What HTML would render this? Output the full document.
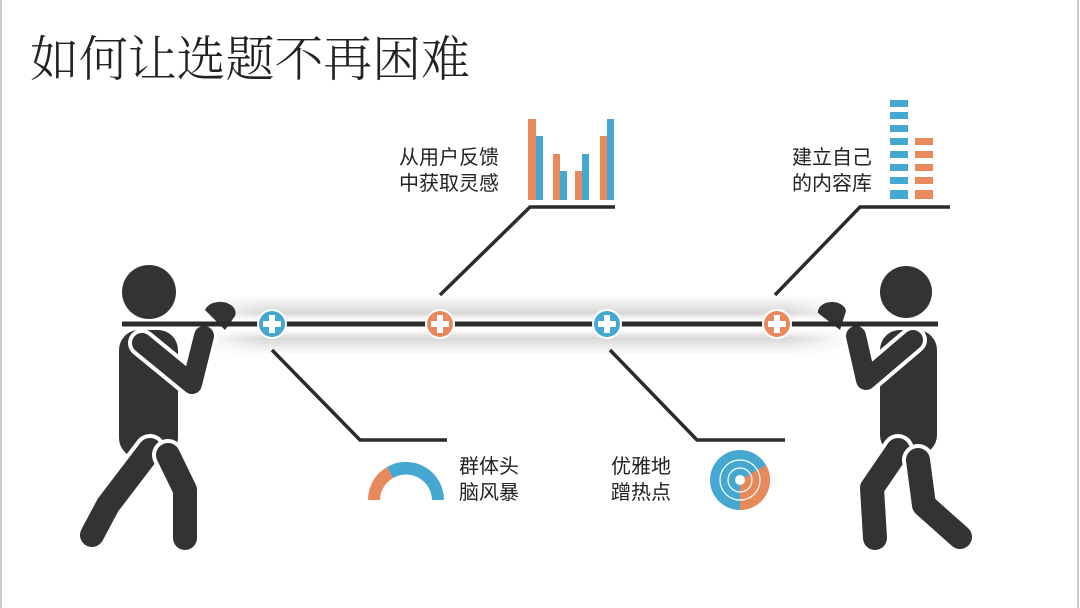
<!DOCTYPE html>
<html><head><meta charset="utf-8"><style>
html,body{margin:0;padding:0;background:#fff;}
body{width:1080px;height:608px;overflow:hidden;position:relative;}
svg{position:absolute;left:0;top:0;}
</style></head><body>
<svg width="1080" height="608" viewBox="0 0 1080 608" xmlns="http://www.w3.org/2000/svg" font-family="'Liberation Sans','Noto Sans CJK SC',sans-serif">
<defs>
<linearGradient id="sh" x1="0" y1="0" x2="0" y2="1">
<stop offset="0" stop-color="#fff"/><stop offset="0.3" stop-color="#d8d8d8"/><stop offset="0.42" stop-color="#fff"/><stop offset="0.58" stop-color="#fff"/><stop offset="0.72" stop-color="#d8d8d8"/><stop offset="1" stop-color="#fff"/>
</linearGradient>
<linearGradient id="shx" x1="0" y1="0" x2="1" y2="0">
<stop offset="0" stop-color="#fff" stop-opacity="1"/><stop offset="0.1" stop-color="#fff" stop-opacity="0"/><stop offset="0.9" stop-color="#fff" stop-opacity="0"/><stop offset="1" stop-color="#fff" stop-opacity="1"/>
</linearGradient>
</defs>
<line x1="1" y1="0" x2="1" y2="608" stroke="#ccc" stroke-width="2"/>
<line x1="1078" y1="0" x2="1078" y2="608" stroke="#ccc" stroke-width="2"/>
<text x="30" y="76" font-size="49" fill="#222" font-family="'Liberation Serif','Noto Serif CJK SC',serif" font-weight="300" textLength="440">如何让选题不再困难</text>

<rect x="200" y="295" width="650" height="60" fill="url(#sh)"/>
<rect x="200" y="295" width="650" height="60" fill="url(#shx)"/>

<g stroke="#2b2b2b" stroke-width="3.5" fill="none">
<polyline points="440,295 530,207 615,207"/>
<polyline points="775,295 860,207 950,207"/>
<polyline points="272,350 360,440 447,440"/>
<polyline points="610,350 697,440 785,440"/>
</g>

<line x1="122" y1="324" x2="938" y2="324" stroke="#2b2b2b" stroke-width="5"/>

<g fill="#E8895C"><rect x="528" y="119" width="8" height="81"/><rect x="553" y="154" width="7" height="46"/><rect x="575" y="171" width="7" height="29"/><rect x="600" y="136" width="7" height="64"/></g>
<g fill="#44A8D0"><rect x="536" y="136" width="7" height="64"/><rect x="560" y="171" width="7" height="29"/><rect x="582" y="154" width="7" height="46"/><rect x="607" y="119" width="7" height="81"/></g>

<g fill="#44A8D0">
<rect x="890" y="100" width="18" height="7"/><rect x="890" y="112" width="18" height="7"/><rect x="890" y="125" width="18" height="7"/><rect x="890" y="138" width="18" height="7"/><rect x="890" y="151" width="18" height="7"/><rect x="890" y="164" width="18" height="7"/><rect x="890" y="177" width="18" height="7"/><rect x="890" y="190" width="18" height="9"/>
</g>
<g fill="#E8895C">
<rect x="915" y="138" width="18" height="7"/><rect x="915" y="151" width="18" height="7"/><rect x="915" y="164" width="18" height="7"/><rect x="915" y="177" width="18" height="7"/><rect x="915" y="190" width="18" height="9"/>
</g>

<path d="M368,500 A38,38 0 0 1 387,467 L393,478 A26,26 0 0 0 380,500 Z" fill="#E8895C"/>
<path d="M387,467 A38,38 0 0 1 444,500 L432,500 A26,26 0 0 0 393,478 Z" fill="#44A8D0"/>

<circle cx="740" cy="480" r="30" fill="#44A8D0"/>
<path d="M740,480 L766,465 A30,30 0 0 1 740,510 Z" fill="#E8895C"/>
<circle cx="740" cy="480" r="20" fill="none" stroke="#fff" stroke-width="1.2"/>
<circle cx="740" cy="480" r="12" fill="none" stroke="#fff" stroke-width="1.2"/>
<circle cx="740" cy="480" r="5" fill="#fff"/>

<g font-size="20" fill="#222">
<text x="399" y="164">从用户反馈</text><text x="399" y="190">中获取灵感</text>
<text x="792" y="164">建立自己</text><text x="792" y="190">的内容库</text>
<text x="459" y="473">群体头</text><text x="459" y="499">脑风暴</text>
<text x="611" y="473">优雅地</text><text x="611" y="499">蹭热点</text>
</g>

<g fill="#333">
<circle cx="149" cy="292" r="27"/>
<rect x="119" y="330" width="59" height="128" rx="20"/>
<path d="M205,310 a14,10 0 0 1 30,6 L225,330 Z"/>
<polyline points="150,450 108,505 92,535" fill="none" stroke="#fff" stroke-width="32" stroke-linejoin="round" stroke-linecap="round"/>
<polyline points="150,450 108,505 92,535" fill="none" stroke="#333" stroke-width="24" stroke-linejoin="round" stroke-linecap="round"/>
<polyline points="168,455 185,490 185,538" fill="none" stroke="#fff" stroke-width="32" stroke-linejoin="round" stroke-linecap="round"/>
<polyline points="168,455 185,490 185,538" fill="none" stroke="#333" stroke-width="24" stroke-linejoin="round" stroke-linecap="round"/>
<polyline points="142,343 192,384 204,336" fill="none" stroke="#fff" stroke-width="28" stroke-linejoin="round" stroke-linecap="round"/>
<polyline points="142,343 192,384 204,336" fill="none" stroke="#333" stroke-width="20" stroke-linejoin="round" stroke-linecap="round"/>
</g>
<g fill="#333">
<circle cx="906" cy="292" r="26"/>
<rect x="880" y="330" width="57" height="125" rx="20"/>
<path d="M818,313 a14,10 0 0 1 28,-2 L840,330 Z"/>
<polyline points="898,450 872,488 875,538" fill="none" stroke="#fff" stroke-width="32" stroke-linejoin="round" stroke-linecap="round"/>
<polyline points="898,450 872,488 875,538" fill="none" stroke="#333" stroke-width="24" stroke-linejoin="round" stroke-linecap="round"/>
<polyline points="918,460 924,505 960,537" fill="none" stroke="#fff" stroke-width="32" stroke-linejoin="round" stroke-linecap="round"/>
<polyline points="918,460 924,505 960,537" fill="none" stroke="#333" stroke-width="24" stroke-linejoin="round" stroke-linecap="round"/>
<polyline points="913,340 866,380 856,336" fill="none" stroke="#fff" stroke-width="28" stroke-linejoin="round" stroke-linecap="round"/>
<polyline points="913,340 866,380 856,336" fill="none" stroke="#333" stroke-width="20" stroke-linejoin="round" stroke-linecap="round"/>
</g>
<line x1="122" y1="324" x2="240" y2="324" stroke="#2b2b2b" stroke-width="5"/>
<line x1="818" y1="324" x2="938" y2="324" stroke="#2b2b2b" stroke-width="5"/>

<g>
<circle cx="272" cy="324" r="15" fill="#fff"/><circle cx="272" cy="324" r="13" fill="#44A8D0"/>
<circle cx="440" cy="324" r="15" fill="#fff"/><circle cx="440" cy="324" r="13" fill="#E8895C"/>
<circle cx="607" cy="324" r="15" fill="#fff"/><circle cx="607" cy="324" r="13" fill="#44A8D0"/>
<circle cx="777" cy="324" r="15" fill="#fff"/><circle cx="777" cy="324" r="13" fill="#E8895C"/>
<g fill="#fff">
<rect x="269" y="315" width="6" height="18"/><rect x="263" y="321" width="18" height="6"/>
<rect x="437" y="315" width="6" height="18"/><rect x="431" y="321" width="18" height="6"/>
<rect x="604" y="315" width="6" height="18"/><rect x="598" y="321" width="18" height="6"/>
<rect x="774" y="315" width="6" height="18"/><rect x="768" y="321" width="18" height="6"/>
</g>
</g>
</svg>
</body></html>
